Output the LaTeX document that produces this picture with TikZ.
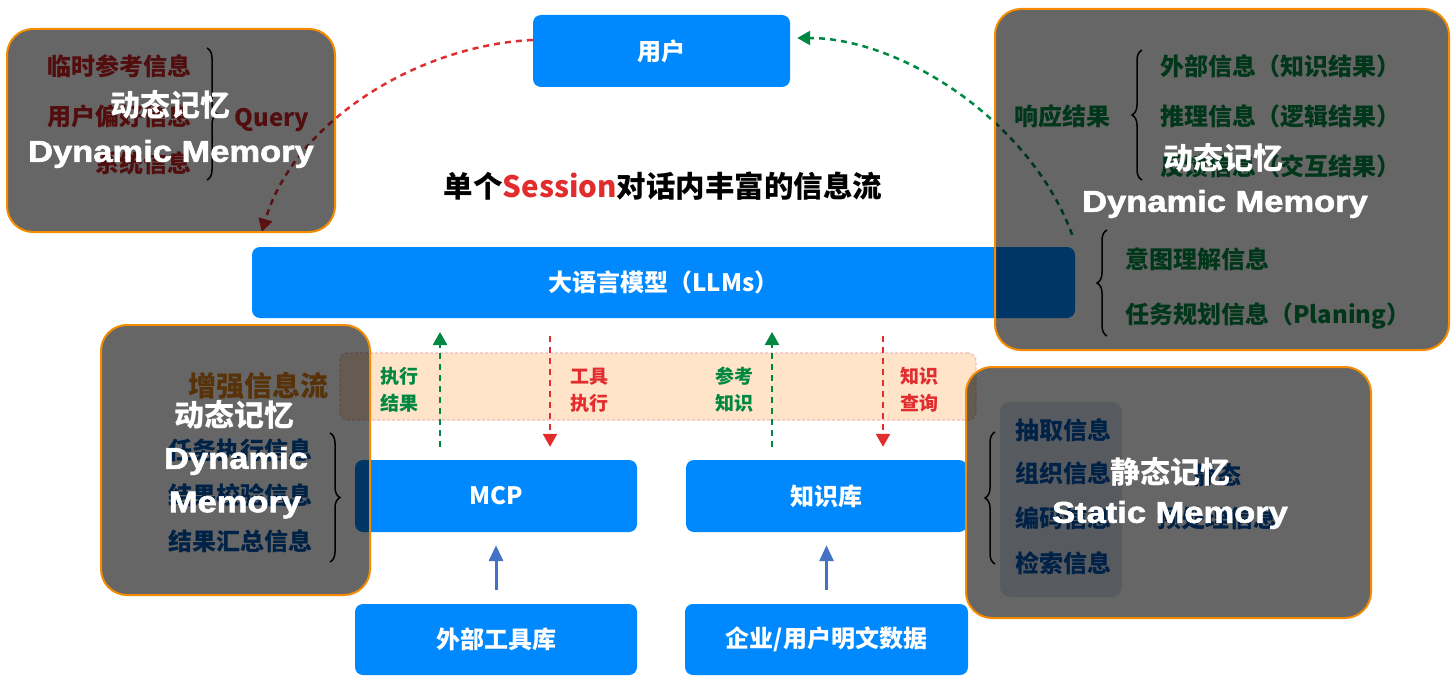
\documentclass[tikz,border=0pt]{standalone}
\usepackage{fontspec}
\setmainfont{Noto Sans CJK SC}
\newfontfamily\memfont[FakeStretch=1.15,FakeBold=2]{Liberation Sans Bold}
\usetikzlibrary{arrows.meta,decorations.pathreplacing}
\begin{document}
\begin{tikzpicture}[x=1pt,y=-1pt,
  box/.style={fill=boxblue,rounded corners=8pt,text=white,inner sep=0pt,font=\fontsize{24}{28}\selectfont\bfseries},
  band/.style={fill=bandfill,draw=bandline,densely dashed,line width=1.2pt,rounded corners=8pt,inner sep=0pt},
  tag/.style={align=center,font=\fontsize{19}{27}\selectfont\bfseries},
  note/.style={font=\fontsize{24}{28}\selectfont\bfseries,inner sep=0pt},
  upflow/.style={draw=okgreen,line width=2.5pt,dash pattern=on 6pt off 5pt,-{Triangle[length=13pt,width=14pt]}},
  downflow/.style={draw=askred,line width=2.5pt,dash pattern=on 6pt off 5pt,-{Triangle[length=13pt,width=14pt]}},
  feed/.style={draw=feedblue,line width=3pt,-{Triangle[length=16pt,width=14pt]}},
  bracket/.style={decorate,decoration={brace,amplitude=10pt},line width=1.5pt},
  shade/.style={fill=black,fill opacity=.6,draw=ringorange,line width=2pt,rounded corners=26pt},
  memcn/.style={text=white,font=\fontsize{30}{34}\selectfont\bfseries},
  memen/.style={text=white,font=\memfont\fontsize{30}{34}\selectfont}]
\definecolor{boxblue}{RGB}{0,137,255}
\definecolor{bandfill}{RGB}{255,228,202}
\definecolor{bandline}{RGB}{245,185,185}
\definecolor{okgreen}{RGB}{0,135,65}
\definecolor{askred}{RGB}{225,45,45}
\definecolor{notered}{RGB}{205,35,35}
\definecolor{noteblue}{RGB}{0,85,175}
\definecolor{notebrown}{RGB}{220,125,20}
\definecolor{feedblue}{RGB}{68,114,196}
\definecolor{listbg}{RGB}{218,228,242}
\definecolor{ringorange}{RGB}{245,140,0}
\useasboundingbox (0,0) rectangle (1456,682);
\node[box,minimum width=257,minimum height=72] (user) at (661.5,51) {用户};
\node[box,minimum width=823,minimum height=71] (llm) at (663.5,282.5) {大语言模型（LLMs）};
\node[font=\fontsize{29.5}{34}\selectfont\bfseries] (title) at (663,186) {单个\textcolor{askred}{Session}对话内丰富的信息流};
\node[band,minimum width=636,minimum height=67] (flow) at (658,386.5) {};
\node[box,minimum width=282,minimum height=72] (mcp) at (496,496) {MCP};
\node[box,minimum width=281,minimum height=72] (kb) at (826.5,496) {知识库};
\node[box,minimum width=282,minimum height=71] (tools) at (496,639.5) {外部工具库};
\node[box,minimum width=283,minimum height=71] (data) at (826.5,639.5) {企业/用户明文数据};
\coordinate (resTop) at (440,332);
\coordinate (callTop) at (550,336);
\coordinate (refTop) at (772,332);
\coordinate (askTop) at (883,336);
\draw[upflow] ([xshift=-56pt,yshift=13pt]mcp.north) -- (resTop);
\draw[downflow] (callTop) -- ([xshift=54pt,yshift=13pt]mcp.north);
\draw[upflow] ([xshift=-54.5pt,yshift=13pt]kb.north) -- (refTop);
\draw[downflow] (askTop) -- ([xshift=56.5pt,yshift=13pt]kb.north);
\node[tag,text=okgreen] (res) at (399,390) {执行\\结果};
\node[tag,text=askred] (call) at (589,390) {工具\\执行};
\node[tag,text=okgreen] (ref) at (734,390) {参考\\知识};
\node[tag,text=askred] (ask) at (919,390) {知识\\查询};
\draw[feed] ([yshift=14pt]tools.north) -- ([yshift=-13pt]mcp.south);
\draw[feed] ([yshift=14pt]data.north) -- ([yshift=-13pt]kb.south);
\draw[downflow] ([yshift=11pt]user.west) .. controls (420,45) and (295,120) .. ([xshift=10pt,yshift=15pt]llm.north west);
\draw[upflow] ([xshift=-3pt,yshift=12pt]llm.north east) .. controls (1030,120) and (900,38) .. ([xshift=7pt,yshift=13pt]user.east);
\node[note,text=notered,anchor=east] (tmp) at (192,66) {临时参考信息};
\node[note,text=notered,anchor=east] (pref) at (192,116) {用户偏好信息};
\node[note,text=notered,anchor=east] (sys) at (192,163) {系统信息};
\draw[bracket] (207,48) -- (207,180);
\node[note,text=notered] (query) at (272,120) {Query};
\node[note,text=okgreen] (reply) at (1062,116) {响应结果};
\draw[bracket] (1142,180) -- (1142,50);
\node[note,text=okgreen,anchor=west] (ext) at (1160,66) {外部信息（知识结果）};
\node[note,text=okgreen,anchor=west] (infer) at (1160,116) {推理信息（逻辑结果）};
\node[note,text=okgreen,anchor=west] (back) at (1160,166) {反馈信息（交互结果）};
\draw[bracket] (1107,336) -- (1107,230);
\node[note,text=okgreen,anchor=west] (intent) at (1125,259) {意图理解信息};
\node[note,text=okgreen,anchor=west] (plan) at (1125,316) {任务规划信息（Planing）};
\node[note,text=notebrown,font=\fontsize{28}{32}\selectfont\bfseries] (boost) at (258,386) {增强信息流};
\node[note,text=noteblue] (taskinfo) at (240,450) {任务执行信息};
\node[note,text=noteblue] (check) at (240,495) {结果校验信息};
\node[note,text=noteblue] (sum) at (240,541) {结果汇总信息};
\draw[bracket] (330,433) -- (330,562);
\fill[listbg,rounded corners=10pt] (1000,402) rectangle (1122,597);
\draw[bracket] (995,564) -- (995,432);
\node[note,text=noteblue,anchor=west] (pick) at (1015,430) {抽取信息};
\node[note,text=noteblue,anchor=west] (org) at (1015,473) {组织信息};
\node[note,text=noteblue,anchor=west] (enc) at (1015,518) {编码信息};
\node[note,text=noteblue,anchor=west] (find) at (1015,563) {检索信息};
\node[note,text=noteblue] (still) at (1217,475) {静态};
\node[note,text=noteblue] (prep) at (1217,518) {预处理信息};
\draw[shade] (7,29) rectangle (335,232);
\draw[shade] (995,9) rectangle (1449,350);
\draw[shade] (101,325) rectangle (370,595);
\draw[shade] (966,367) rectangle (1371,618);
\node[memcn] (dynA) at (170,105) {动态记忆};
\node[memen] (dynAen) at (171,154) {Dynamic Memory};
\node[memcn] (dynB) at (1223,158) {动态记忆};
\node[memen] (dynBen) at (1225,204) {Dynamic Memory};
\node[memcn] (dynC) at (234,415) {动态记忆};
\node[memen] (dynCen) at (236,461) {Dynamic};
\node[memen] (dynCen2) at (235,505) {Memory};
\node[memcn] (stat) at (1170,472) {静态记忆};
\node[memen] (staten) at (1170,515) {Static Memory};
\end{tikzpicture}
\end{document}
